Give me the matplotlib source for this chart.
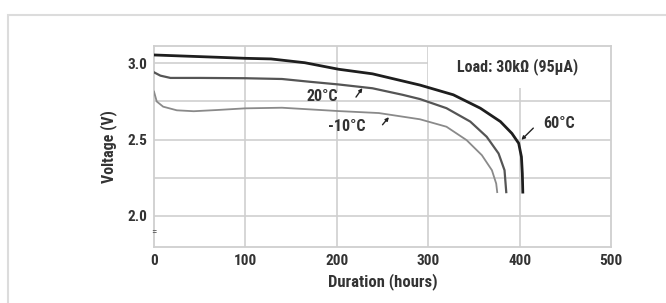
import matplotlib
matplotlib.use("Agg")
import matplotlib.pyplot as plt
from matplotlib.patches import Rectangle

plt.rcParams['font.family'] = ['Roboto Condensed', 'DejaVu Sans']
plt.rcParams['font.stretch'] = 'condensed'

# Data
hours_60 = [0, 32, 69, 100, 128, 165, 202, 239, 272, 291, 327.5, 357, 379, 391.6, 399, 402, 403, 403.5]
volts_60 = [3.056, 3.049, 3.041, 3.034, 3.03, 3.005, 2.962, 2.932, 2.885, 2.858, 2.794, 2.706,
            2.618, 2.54, 2.475, 2.386, 2.276, 2.154]

hours_20 = [0, 7, 18, 51, 100, 140, 170, 202, 239, 272, 291, 320, 346, 364, 377, 383.5, 385.4]
volts_20 = [2.942, 2.92, 2.905, 2.905, 2.903, 2.898, 2.88, 2.862, 2.837, 2.794, 2.766, 2.706,
            2.618, 2.518, 2.408, 2.298, 2.154]

hours_m10 = [0, 3, 10, 25, 43.5, 69, 100, 140, 202, 246, 291, 320, 342, 358.7, 369.7, 374.4, 375.5]
volts_m10 = [2.815, 2.75, 2.716, 2.692, 2.686, 2.694, 2.705, 2.709, 2.687, 2.674, 2.633, 2.584,
             2.496, 2.397, 2.298, 2.21, 2.154]

x_ticks = [0, 100, 200, 300, 400, 500]
y_ticks = [2.0, 2.5, 3.0]
y_tick_labels = ['2.0', '2.5', '3.0']
y_grid = [2.0, 2.25, 2.5, 2.75, 3.0]

fig = plt.figure(figsize=(6.66, 3.03), dpi=100)
fig.patches.append(Rectangle((8/666, -0.1), 1.2, 1 - 15/303 + 0.1, transform=fig.transFigure,
                             fill=False, edgecolor='#dcdcdc', linewidth=1.5))
ax = fig.add_axes([154/666, 1 - 247/303, (611 - 154)/666, (247 - 46)/303])
ax.set_xlim(0, 500)
ax.set_ylim(1.793, 3.115)

gc = '#cfcfcf'
for x in x_ticks[1:-1]:
    ax.axvline(x, color=gc, lw=1.2, zorder=1.5)
for y in y_grid:
    ax.axhline(y, color=gc, lw=1.2, zorder=1.5)

# white areas behind annotations (break gridlines like the reference)
ax.add_patch(Rectangle((300, 2.84), 200, 0.3, facecolor='white', edgecolor='none', zorder=1.6))
ax.add_patch(Rectangle((132, 2.76), 86, 0.05, facecolor='white', edgecolor='none', zorder=1.6))

ax.plot(hours_m10, volts_m10, color='#8a8a8a', lw=1.3, zorder=3, solid_joinstyle='round')
ax.plot(hours_20, volts_20, color='#555555', lw=1.6, zorder=3, solid_joinstyle='round')
ax.plot(hours_60, volts_60, color='#1e1e1e', lw=2.0, zorder=3, solid_joinstyle='round')

for s in ax.spines.values():
    s.set_color('#cfcfcf')
    s.set_linewidth(1.3)
ax.tick_params(length=0, labelsize=11, colors='#333333', pad=5)
ax.set_xticks(x_ticks)
ax.set_yticks(y_ticks)
ax.set_yticklabels(y_tick_labels)
for t in ax.get_xticklabels() + ax.get_yticklabels():
    t.set_fontweight('bold')
ax.set_xlabel('Duration (hours)', fontsize=12, fontweight='bold', color='#333333', labelpad=4)
ax.set_ylabel('Voltage (V)', fontsize=11.5, fontweight='bold', color='#333333', labelpad=7)

tc = '#333333'
fs = 11.5
ax.text(398, 2.98, 'Load: 30kΩ (95µA)', fontsize=fs, fontweight='bold', color=tc,
        ha='center', va='center', zorder=4)
ax.text(184, 2.783, '20°C', fontsize=fs, fontweight='bold', color=tc, ha='center', va='center', zorder=4)
ax.text(211, 2.586, '-10°C', fontsize=fs, fontweight='bold', color=tc, ha='center', va='center', zorder=4)
ax.text(443, 2.608, '60°C', fontsize=fs, fontweight='bold', color=tc, ha='center', va='center', zorder=4)

arr = dict(arrowstyle='-|>', color='#222222', lw=1.0, mutation_scale=5, shrinkA=0, shrinkB=0)
ax.annotate('', xy=(228, 2.838), xytext=(221, 2.779), arrowprops=arr, zorder=4)
ax.annotate('', xy=(257, 2.647), xytext=(250, 2.597), arrowprops=arr, zorder=4)
ax.annotate('', xy=(402, 2.498), xytext=(415, 2.575), arrowprops=arr, zorder=4)

ax.text(0, 1.89, '=', fontsize=8, color='#555555', ha='center', va='center', zorder=5,
        clip_on=False)

fig.savefig('out.png', dpi=100)
